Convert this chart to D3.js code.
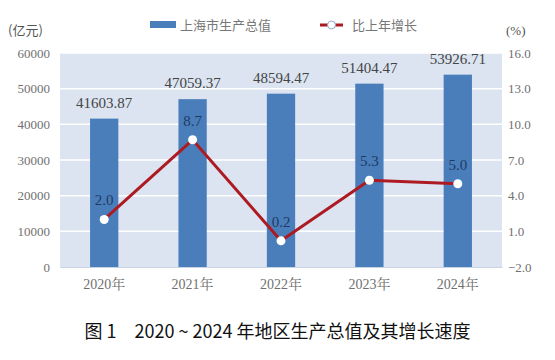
<!DOCTYPE html>
<html><head><meta charset="utf-8">
<script src="https://cdn.jsdelivr.net/npm/d3@7"></script>
<style>body{margin:0;background:#fff}svg{display:block}</style>
</head><body>
<svg id="c" width="555" height="360"></svg>
<script>
const categories = ["2020年","2021年","2022年","2023年","2024年"];
const gdpValues = [41603.87, 47059.37, 48594.47, 51404.47, 53926.71];
const growthValues = [2.0, 8.7, 0.2, 5.3, 5.0];
const leftTicks = [0,10000,20000,30000,40000,50000,60000];
const rightTicks = [-2.0,1.0,4.0,7.0,10.0,13.0,16.0];

const svg = d3.select("#c");
const m = {l:60, r:502, t:53, b:267};
const serif = "'Liberation Serif','DejaVu Serif','Noto Serif CJK SC',serif";
const cjk = "'Noto Sans CJK SC',sans-serif";

const x = d3.scaleBand().domain(categories).range([m.l, m.r]).paddingInner(0.68).paddingOuter(0.34);
const y = d3.scaleLinear().domain([0,60000]).range([m.b, m.t]);
const y2 = d3.scaleLinear().domain([-2,16]).range([m.b, m.t]);

svg.append("rect").attr("x",m.l).attr("y",m.t).attr("width",m.r-m.l).attr("height",m.b-m.t).attr("fill","#dbe4f0");
svg.append("g").selectAll("line").data(leftTicks.slice(1)).join("line")
  .attr("x1",m.l).attr("x2",m.r).attr("y1",d=>y(d)).attr("y2",d=>y(d))
  .attr("stroke","#fff").attr("stroke-width",1.5);

// axes
const axL = svg.append("g").attr("transform",`translate(${m.l},0)`)
  .call(d3.axisLeft(y).tickValues(leftTicks).tickSize(0).tickPadding(10).tickFormat(d3.format("d")));
axL.select(".domain").remove();
const axR = svg.append("g").attr("transform",`translate(${m.r},0)`)
  .call(d3.axisRight(y2).tickValues(rightTicks).tickSize(0).tickPadding(6).tickFormat(d=>d.toFixed(1).replace("-","−")));
axR.select(".domain").remove();
const axB = svg.append("g").attr("transform",`translate(0,${m.b})`)
  .call(d3.axisBottom(x).tickSize(0).tickPadding(12));
axB.select(".domain").attr("stroke","#c8d3e3");
svg.selectAll(".tick text").attr("font-family",serif).attr("font-size",13).attr("fill","#707070");
axB.selectAll(".tick text").attr("font-size",14);

// bars
svg.append("g").selectAll("rect").data(gdpValues).join("rect")
  .attr("x",(d,i)=>x(categories[i])).attr("width",x.bandwidth())
  .attr("y",d=>y(d)).attr("height",d=>y(0)-y(d)).attr("fill","#4a7ebb");
svg.append("g").selectAll("text").data(gdpValues).join("text")
  .attr("x",(d,i)=>x(categories[i])+x.bandwidth()/2).attr("y",d=>y(d)-11)
  .attr("text-anchor","middle").attr("font-family",serif).attr("font-size",15).attr("fill","#444")
  .text(d=>d.toFixed(2));

// line
const cx = (d,i)=>x(categories[i])+x.bandwidth()/2;
svg.append("path").datum(growthValues)
  .attr("d",d3.line().x(cx).y(d=>y2(d)))
  .attr("fill","none").attr("stroke","#ad1a22").attr("stroke-width",3);
svg.append("g").selectAll("circle").data(growthValues).join("circle")
  .attr("cx",cx).attr("cy",d=>y2(d)).attr("r",4.5).attr("fill","#fff");
svg.append("g").selectAll("text").data(growthValues).join("text")
  .attr("x",cx).attr("y",d=>y2(d)-14)
  .attr("text-anchor","middle").attr("font-family",serif).attr("font-size",15).attr("fill","#1f3b63")
  .text(d=>d.toFixed(1));

// unit labels
svg.append("text").attr("x",8).attr("y",35).attr("font-family",cjk).attr("font-size",13).attr("fill","#555").text("(亿元)");
svg.append("text").attr("x",506).attr("y",35).attr("font-family",serif).attr("font-size",13).attr("fill","#555").text("(%)");

// legend
svg.append("rect").attr("x",150).attr("y",21).attr("width",26).attr("height",7).attr("fill","#4a7ebb");
svg.append("text").attr("x",180).attr("y",29.5).attr("font-family",cjk).attr("font-size",13).attr("fill","#777").text("上海市生产总值");
svg.append("line").attr("x1",320).attr("x2",343).attr("y1",25).attr("y2",25).attr("stroke","#ad1a22").attr("stroke-width",3);
svg.append("circle").attr("cx",331.5).attr("cy",25).attr("r",4).attr("fill","#fff").attr("stroke","#8fa8cc").attr("stroke-width",1);
svg.append("text").attr("x",352).attr("y",29.5).attr("font-family",cjk).attr("font-size",13).attr("fill","#777").text("比上年增长");

// title
svg.append("text").attr("x",277.5).attr("y",338).attr("text-anchor","middle").attr("font-family",cjk)
  .attr("font-size",18).attr("fill","#111").attr("xml:space","preserve")
  .text("图 1　2020 ~ 2024 年地区生产总值及其增长速度");
</script>
</body></html>
